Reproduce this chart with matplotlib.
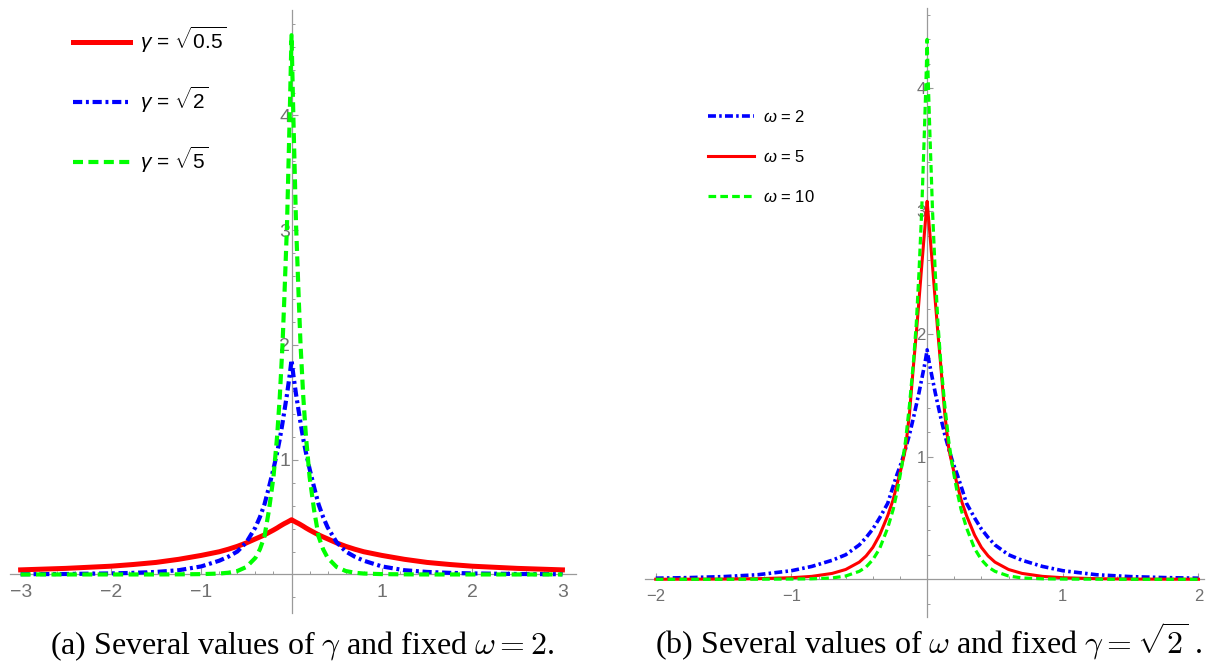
import numpy as np
import matplotlib
matplotlib.use("Agg")
import matplotlib.pyplot as plt
from matplotlib.ticker import MultipleLocator, FixedLocator

plt.rcParams['font.family'] = ['Liberation Sans Narrow', 'Liberation Sans', 'DejaVu Sans']
plt.rcParams['mathtext.fontset'] = 'custom'
plt.rcParams['mathtext.rm'] = 'Liberation Sans'
plt.rcParams['mathtext.it'] = 'Liberation Sans:italic'

# ---- panel (a): several gamma, omega = 2 (values for x >= 0, curves are symmetric)
xa = [0, 0.02, 0.05, 0.08, 0.1, 0.13, 0.16, 0.2, 0.25, 0.3, 0.35, 0.4, 0.5,
      0.6, 0.7, 0.8, 1.0, 1.25, 1.5, 1.75, 2.0, 2.5, 3.0]
a_g05 = [0.477, 0.468, 0.455, 0.443, 0.434, 0.42, 0.405, 0.387, 0.366, 0.345, 0.327, 0.31, 0.275,
         0.245, 0.22, 0.198, 0.166, 0.132, 0.105, 0.087, 0.072, 0.053, 0.04]
a_g2 = [1.87, 1.74, 1.57, 1.42, 1.32, 1.18, 1.06, 0.92, 0.76, 0.61, 0.5, 0.41, 0.28,
        0.2, 0.155, 0.12, 0.07, 0.037, 0.022, 0.014, 0.009, 0.004, 0.002]
a_g5 = [4.7, 4.0, 3.05, 2.4, 2.0, 1.55, 1.2, 0.85, 0.56, 0.33, 0.22, 0.145, 0.065,
        0.03, 0.015, 0.008, 0.003, 0.001, 0.0, 0.0, 0.0, 0.0, 0.0]

# ---- panel (b): several omega, gamma = sqrt(2)
xb = [0, 0.01, 0.02, 0.04, 0.06, 0.08, 0.1, 0.13, 0.16, 0.19, 0.22, 0.25, 0.29,
      0.35, 0.4, 0.45, 0.5, 0.6, 0.7, 0.85, 1.0, 1.25, 1.5, 1.75, 2.0]
b_w2 = [1.87, 1.8, 1.74, 1.63, 1.52, 1.42, 1.32, 1.18, 1.06, 0.95, 0.86, 0.76, 0.62,
        0.5, 0.41, 0.34, 0.28, 0.2, 0.155, 0.105, 0.07, 0.037, 0.022, 0.014, 0.009]
b_w5 = [3.08, 2.95, 2.82, 2.55, 2.27, 2.0, 1.75, 1.35, 1.06, 0.91, 0.78, 0.65, 0.52,
        0.36, 0.26, 0.19, 0.14, 0.08, 0.048, 0.024, 0.013, 0.005, 0.002, 0.001, 0.0005]
b_w10 = [4.4, 4.0, 3.65, 3.0, 2.5, 2.08, 1.78, 1.42, 1.12, 0.9, 0.72, 0.57, 0.42,
         0.25, 0.16, 0.1, 0.065, 0.027, 0.011, 0.004, 0.002, 0.001, 0.0, 0.0, 0.0]


def mirror(x, y):
    x = np.asarray(x, float)
    y = np.asarray(y, float)
    return np.concatenate([-x[::-1], x[1:]]), np.concatenate([y[::-1], y[1:]])


def style_axes(ax, xmaj, ymaj, lab_size):
    for s in ['top', 'right']:
        ax.spines[s].set_visible(False)
    for s in ['left', 'bottom']:
        ax.spines[s].set_position('zero')
        ax.spines[s].set_color('#9a9a9a')
        ax.spines[s].set_linewidth(0.9)
    ax.xaxis.set_major_locator(FixedLocator(xmaj))
    ax.yaxis.set_major_locator(FixedLocator(ymaj))
    ax.xaxis.set_minor_locator(MultipleLocator(0.2))
    ax.yaxis.set_minor_locator(MultipleLocator(0.2))
    ax.set_xticklabels(['\u2212%d' % -v if v < 0 else '%d' % v for v in xmaj])
    ax.set_yticklabels(['%d' % v for v in ymaj])
    ax.tick_params(which='both', direction='in', color='#9a9a9a', labelcolor='#707070',
                   labelsize=lab_size)
    ax.tick_params(which='major', length=4, width=0.8)
    ax.tick_params(which='minor', length=2.5, width=0.7)
    ax.tick_params(axis='x', pad=7)
    ax.tick_params(axis='y', pad=1)
    ax.patch.set_visible(False)


fig = plt.figure(figsize=(12.09, 6.62), dpi=100)

green = '#00ff00'

# panel (a)
ax1 = fig.add_axes([0.0081, 0.074, 0.4683, 0.911])
ax1.set_xlim(-3.12, 3.15)
ax1.set_ylim(-0.336, 4.92)
style_axes(ax1, [-3, -2, -1, 1, 2, 3], [1, 2, 3, 4], 14)

x, y = mirror(xa, a_g05)
ax1.plot(x, y, color='#ff0000', lw=3.6, zorder=3, label=r'$\gamma$ = $\sqrt{0.5}$')
x, y = mirror(xa, a_g2)
ax1.plot(x, y, color='#0000ff', lw=3.0, dashes=(2.2, 0.9, 0.7, 0.9), zorder=3,
         label=r'$\gamma$ = $\sqrt{2}$')
x, y = mirror(xa, a_g5)
ax1.plot(x, y, color=green, lw=3.0, dashes=(2.4, 1.3), zorder=3,
         label=r'$\gamma$ = $\sqrt{5}$')
ax1.legend(loc='upper left', bbox_to_anchor=(0.0604, 0.962), bbox_transform=fig.transFigure,
           frameon=False, fontsize=15, handlelength=2.75, handletextpad=0.45,
           labelspacing=1.42, borderpad=0, borderaxespad=0)

# panel (b)
ax2 = fig.add_axes([0.5334, 0.068, 0.4624, 0.92])
ax2.set_xlim(-2.08, 2.04)
ax2.set_ylim(-0.307, 4.656)
style_axes(ax2, [-2, -1, 1, 2], [1, 2, 3, 4], 12)

x, y = mirror(xb, b_w2)
ax2.plot(x, y, color='#0000ff', lw=2.6, dashes=(2.2, 0.9, 0.7, 0.9), zorder=3,
         label=r'$\omega$ = 2')
x, y = mirror(xb, b_w5)
ax2.plot(x, y, color='#ff0000', lw=2.2, zorder=3, label=r'$\omega$ = 5')
x, y = mirror(xb, b_w10)
ax2.plot(x, y, color=green, lw=2.3, dashes=(2.4, 1.3), zorder=3, label=r'$\omega$ = 10')
ax2.legend(loc='upper left', bbox_to_anchor=(0.5856, 0.836), bbox_transform=fig.transFigure,
           frameon=False, fontsize=12, handlelength=2.75, handletextpad=0.55,
           labelspacing=1.45, borderpad=0, borderaxespad=0)

# captions
fig.text(0.25, 0.012, r'(a) Several values of $\gamma$ and fixed $\omega = 2$.',
         ha='center', va='baseline', fontsize=23, family='Liberation Serif', math_fontfamily='cm')
fig.text(0.768, 0.012, r'(b) Several values of $\omega$ and fixed $\gamma = \sqrt{2}$ .',
         ha='center', va='baseline', fontsize=23, family='Liberation Serif', math_fontfamily='cm')

fig.savefig('out.png', dpi=100)
